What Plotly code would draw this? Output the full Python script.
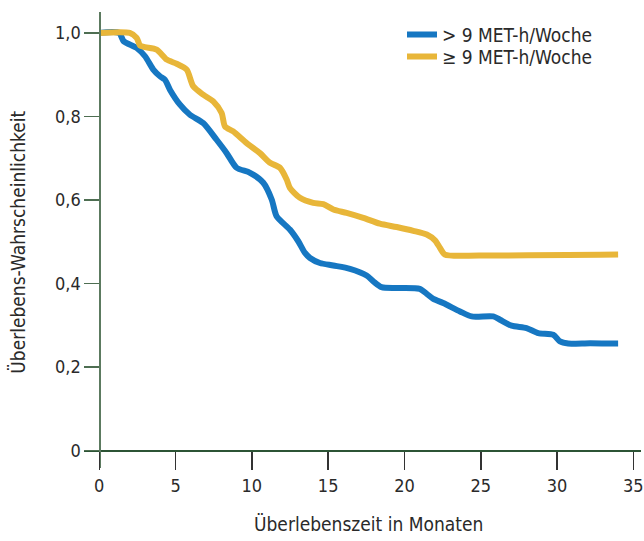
import plotly.graph_objects as go

# Kaplan-Meier-like survival curves
blue_t = [0, 1.3, 1.6, 2.45, 3.0, 3.54, 3.98, 4.3, 4.63, 5.29, 5.94, 6.81, 7.69, 8.35, 9.0,
          9.88, 10.75, 11.3, 11.62, 12.49, 13.04, 13.48, 13.81, 14.46, 15.34, 16.43, 17.52,
          17.96, 18.5, 19.49, 21.0, 21.46, 21.89, 22.54, 23.64, 24.4, 25.82, 26.26, 27.02,
          28.0, 28.77, 29.75, 30.19, 30.73, 32.16, 33.8, 34.0]
blue_s = [1.0, 1.0, 0.98, 0.964, 0.944, 0.912, 0.896, 0.888, 0.864, 0.828, 0.804, 0.784, 0.744,
          0.712, 0.677, 0.665, 0.641, 0.601, 0.561, 0.529, 0.501, 0.473, 0.461, 0.449, 0.443,
          0.435, 0.419, 0.405, 0.391, 0.389, 0.387, 0.375, 0.363, 0.353, 0.333, 0.321, 0.321,
          0.313, 0.299, 0.293, 0.281, 0.277, 0.261, 0.256, 0.257, 0.256, 0.256]

yellow_t = [0, 2.0, 2.45, 2.67, 3.0, 3.76, 4.42, 5.07, 5.73, 6.16, 6.81, 7.47, 8.02, 8.24, 8.78,
            9.66, 10.53, 11.19, 11.84, 12.28, 12.49, 13.15, 14.02, 14.68, 15.34, 16.21, 17.3,
            18.39, 19.49, 20.58, 21.46, 22.0, 22.33, 22.65, 24.95, 34.0]
yellow_s = [1.0, 1.0, 0.988, 0.970, 0.966, 0.960, 0.936, 0.926, 0.912, 0.872, 0.852, 0.836, 0.808,
            0.776, 0.764, 0.736, 0.712, 0.689, 0.677, 0.649, 0.629, 0.605, 0.593, 0.590, 0.577,
            0.569, 0.557, 0.543, 0.535, 0.526, 0.517, 0.503, 0.485, 0.469, 0.467, 0.469]

series_names = ["> 9 MET-h/Woche", "\u2265 9 MET-h/Woche"]

x_ticks = [0, 5, 10, 15, 20, 25, 30, 35]
y_ticks = [0, 0.2, 0.4, 0.6, 0.8, 1.0]
y_ticktext = ["0", "0,2", "0,4", "0,6", "0,8", "1,0"]

x_title = "Überlebenszeit in Monaten"
y_title = "Überlebens-Wahrscheinlichkeit"

FONT = "DejaVu Sans Condensed, Liberation Sans Narrow, sans-serif"
BLUE = "#1677c2"
YELLOW = "#e8b639"
TXT = "#2a2a2a"

fig = go.Figure()
fig.add_trace(go.Scatter(x=blue_t, y=blue_s, mode="lines", name=series_names[0], legend="legend",
                         line=dict(color=BLUE, width=6, shape="spline", smoothing=0.7)))
fig.add_trace(go.Scatter(x=yellow_t, y=yellow_s, mode="lines", name=series_names[1], legend="legend2",
                         line=dict(color=YELLOW, width=6, shape="spline", smoothing=0.7)))

# body margin is removed in the page (post_script), so reference pixels map 1:1
W, H = 644, 541
ml, mt = 84, 12.4
mr = W - 641
mb = H - 468.2
pw = W - ml - mr
ph = H - mt - mb
x0px = 99.3
y0px = 450.7
xmin, xmax = -1.0, 35.5
ymin, ymax = -0.042, 1.05


def px2paper_x(px):
    return (px - ml) / pw


def px2paper_y(py):
    return 1 - (py - mt) / ph


legend_common = dict(xanchor="left", yanchor="middle", bgcolor="rgba(0,0,0,0)",
                     font=dict(family=FONT, size=19, color=TXT), itemwidth=30,
                     borderwidth=0)

fig.update_layout(
    width=W, height=H,
    margin=dict(l=ml, r=mr, t=mt, b=mb, autoexpand=False),
    paper_bgcolor="white", plot_bgcolor="white",
    font=dict(family=FONT, size=18, color=TXT),
    showlegend=True,
    legend=dict(x=px2paper_x(402), y=px2paper_y(35), **legend_common),
    legend2=dict(x=px2paper_x(402), y=px2paper_y(57), **legend_common),
    xaxis=dict(range=[xmin, xmax], tickvals=x_ticks, ticktext=[str(v) for v in x_ticks],
               showgrid=False, zeroline=False, showline=True, linecolor="#2c5435", linewidth=1.5,
               ticks="outside", ticklen=18, tickwidth=1.5, tickcolor="#333333",
               anchor="free", position=(H - mb - y0px) / ph, automargin=False,
               tickfont=dict(family=FONT, size=18, color=TXT)),
    yaxis=dict(range=[ymin, ymax], tickvals=y_ticks, ticktext=y_ticktext,
               showgrid=False, zeroline=False, showline=True, linecolor="#5c7a60", linewidth=1.5,
               ticks="outside", ticklen=15, tickwidth=1.5, tickcolor="#4e6e52",
               anchor="free", position=(x0px - ml) / pw, automargin=False,
               tickfont=dict(family=FONT, size=18, color=TXT)),
    annotations=[
        dict(text=x_title, xref="paper", yref="paper", x=px2paper_x(368), y=px2paper_y(524),
             xanchor="center", yanchor="middle", showarrow=False,
             font=dict(family=FONT, size=19, color=TXT)),
        dict(text=y_title, xref="paper", yref="paper", x=px2paper_x(18), y=px2paper_y(243),
             xanchor="center", yanchor="middle", showarrow=False, textangle=-90,
             font=dict(family=FONT, size=19, color=TXT)),
    ],
)

fig.write_html("out.html",
               config={"displayModeBar": False, "staticPlot": True},
               post_script="document.body.style.margin='0';document.body.style.overflow='hidden';")
